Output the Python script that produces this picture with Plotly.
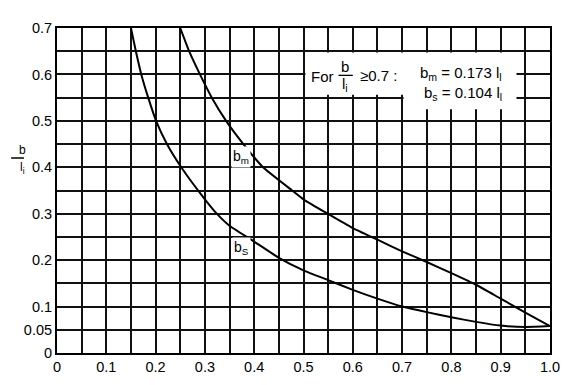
import plotly.graph_objects as go

# Data
bm_x = [0.25, 0.268, 0.29, 0.314, 0.343, 0.378, 0.418, 0.477, 0.50, 0.549, 0.60, 0.65,
        0.70, 0.75, 0.80, 0.85, 0.90, 0.95, 1.0]
bm_y = [0.70, 0.65, 0.60, 0.55, 0.50, 0.45, 0.40, 0.35, 0.331, 0.30, 0.269, 0.244,
        0.219, 0.196, 0.172, 0.147, 0.117, 0.087, 0.058]

bs_x = [0.15, 0.16, 0.171, 0.185, 0.201, 0.223, 0.252, 0.30, 0.325, 0.35, 0.40, 0.45,
        0.50, 0.55, 0.60, 0.65, 0.70, 0.75, 0.80, 0.85, 0.90, 0.95, 1.0]
bs_y = [0.70, 0.65, 0.60, 0.55, 0.50, 0.45, 0.40, 0.331, 0.299, 0.274, 0.240, 0.205,
        0.178, 0.157, 0.136, 0.117, 0.100, 0.088, 0.077, 0.067, 0.059, 0.056, 0.058]

x_grid = [round(i * 0.05, 2) for i in range(21)]
x_labels = ["0", "", "0.1", "", "0.2", "", "0.3", "", "0.4", "", "0.5", "", "0.6", "",
            "0.7", "", "0.8", "", "0.9", "", "1.0"]
y_grid = [round(i * 0.05, 2) for i in range(15)]
y_labels = ["0", "0.05", "0.1", "", "0.2", "", "0.3", "", "0.4", "", "0.5", "", "0.6", "", "0.7"]

FONT = "Liberation Sans, Arial, sans-serif"

fig = go.Figure()
fig.add_trace(go.Scatter(x=bm_x, y=bm_y, mode="lines",
                         line=dict(color="black", width=2, shape="spline", smoothing=0.5),
                         showlegend=False, hoverinfo="skip"))
fig.add_trace(go.Scatter(x=bs_x, y=bs_y, mode="lines",
                         line=dict(color="black", width=2, shape="spline", smoothing=0.5),
                         showlegend=False, hoverinfo="skip"))

axis_common = dict(showgrid=True, gridcolor="#111111", gridwidth=1.7, zeroline=False,
                   showline=True, linecolor="black", linewidth=2, mirror=True,
                   ticks="", tickfont=dict(family=FONT, size=14.5, color="black"))

fig.update_xaxes(range=[0, 1.0], tickmode="array", tickvals=x_grid, ticktext=x_labels, **axis_common)
fig.update_yaxes(range=[0, 0.7], tickmode="array", tickvals=y_grid, ticktext=y_labels, **axis_common)

shapes = [
    # white box behind the note
    dict(type="rect", xref="x", yref="y", x0=0.504, x1=0.932, y0=0.556, y1=0.647,
         fillcolor="white", line=dict(width=0), layer="above"),
    dict(type="rect", xref="x", yref="y", x0=0.703, x1=0.932, y0=0.525, y1=0.58,
         fillcolor="white", line=dict(width=0), layer="above"),
    # fraction bar in note
    dict(type="line", xref="x", yref="y", x0=0.571, x1=0.600, y0=0.598, y1=0.598,
         line=dict(color="black", width=1.3), layer="above"),
    # fraction bar in y title
    dict(type="line", xref="paper", yref="paper", x0=-0.093, x1=-0.067, y0=0.600, y1=0.600,
         line=dict(color="black", width=1.5)),
]

note_font = dict(family=FONT, size=15, color="black")
lab_font = dict(family=FONT, size=14, color="black")
title_font = dict(family=FONT, size=12, color="black")
annotations = [
    dict(x=0.538, y=0.596, xref="x", yref="y", text="For", showarrow=False, font=note_font),
    dict(x=0.585, y=0.617, xref="x", yref="y", text="b", showarrow=False, font=note_font),
    dict(x=0.585, y=0.578, xref="x", yref="y", text="l<sub>i</sub>", showarrow=False, font=note_font),
    dict(x=0.652, y=0.597, xref="x", yref="y", text="≥0.7 :", showarrow=False, font=note_font),
    dict(x=0.907, y=0.603, xref="x", yref="y", text="b<sub>m</sub> = 0.173 l<sub>l</sub>",
         showarrow=False, font=note_font, xanchor="right"),
    dict(x=0.907, y=0.560, xref="x", yref="y", text="b<sub>s</sub> = 0.104 l<sub>l</sub>",
         showarrow=False, font=note_font, xanchor="right"),
    dict(x=0.374, y=0.423, xref="x", yref="y", text="b<sub>m</sub>", showarrow=False,
         font=lab_font, bgcolor="white"),
    dict(x=0.374, y=0.226, xref="x", yref="y", text="b<sub>S</sub>", showarrow=False,
         font=lab_font, bgcolor="white"),
    # y-axis title as fraction
    dict(x=-0.080, y=0.626, xref="paper", yref="paper", text="b", showarrow=False,
         font=title_font, borderpad=0),
    dict(x=-0.078, y=0.570, xref="paper", yref="paper", text="l<sub>i</sub>", showarrow=False,
         font=title_font, borderpad=0),
]

# the page body adds an 8px offset; margins compensate so the plot sits where the reference has it
fig.update_layout(
    width=580, height=385,
    margin=dict(l=49, r=38, t=14, b=40),
    paper_bgcolor="white", plot_bgcolor="white",
    shapes=shapes, annotations=annotations,
    font=dict(family=FONT, size=14, color="black"),
)

fig.write_html("out.html")
